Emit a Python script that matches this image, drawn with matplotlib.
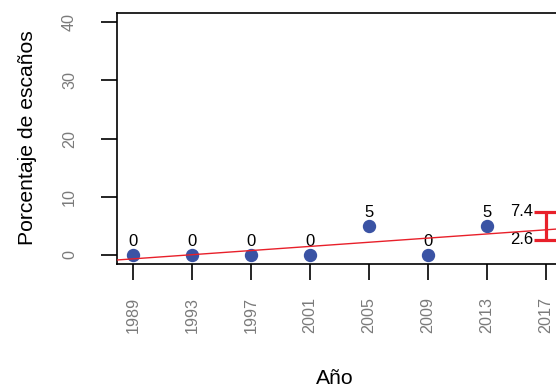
import numpy as np
import matplotlib
matplotlib.use("Agg")
import matplotlib.pyplot as plt

plt.rcParams['font.family'] = ['Liberation Sans', 'DejaVu Sans']

# seats share per election
years = [1989, 1993, 1997, 2001, 2005, 2009, 2013]
seats = [0, 0, 0, 0, 5, 0, 5]
# interval for the next election
pred_year = 2017
pred_low = 2.6
pred_high = 7.4
tick_years = [1989, 1993, 1997, 2001, 2005, 2009, 2013, 2017]
y_ticks = [0, 10, 20, 30, 40]

blue = '#3a53a4'
red = '#e8202a'
grey = '#7a7a7a'

fig = plt.figure(figsize=(5.56, 3.92), dpi=100)
ax = fig.add_axes([116.5 / 556, 1 - 264 / 392, 446 / 556, 251 / 392])

# R-style limits (4% padding)
xr = tick_years[-1] - tick_years[0]
ax.set_xlim(tick_years[0] - 0.04 * xr, tick_years[-1] + 0.04 * xr)
ax.set_ylim(-0.04 * 40, 40 * 1.04)

ax.plot(years, seats, 'o', color=blue, ms=8.6, zorder=3)
for x, y in zip(years, seats):
    ax.annotate(str(y), (x, y), xytext=(0, 6.5), textcoords='offset points',
                ha='center', va='baseline', fontsize=12)

# linear trend
slope, icpt = np.polyfit(years, seats, 1)
ax.axline((years[0], icpt + slope * years[0]), slope=slope, color=red, lw=1, zorder=4)

# interval bar
mid = (pred_low + pred_high) / 2
ax.errorbar([pred_year], [mid], yerr=[[mid - pred_low], [pred_high - mid]],
            color=red, lw=2.3, capsize=8.6, capthick=2.3, fmt='none', zorder=4,
            clip_on=False)
for v in (pred_high, pred_low):
    ax.annotate(f'{v:.1f}', (pred_year, v), xytext=(-9.5, 0), textcoords='offset points',
                ha='right', va='center', fontsize=12)

ax.set_xticks(tick_years)
ax.set_xticklabels([str(t) for t in tick_years], rotation=90, color=grey, fontsize=11.6)
ax.set_yticks(y_ticks)
ax.set_yticklabels([str(t) for t in y_ticks], rotation=90, va='center', color=grey, fontsize=11.6)
ax.tick_params(axis='x', length=11.5, width=1.2, pad=12)
ax.tick_params(axis='y', length=11.5, width=1.2, pad=17)
for s in ax.spines.values():
    s.set_linewidth(1.2)

fig.text(28 / 556, 1 - 138 / 392, 'Porcentaje de escaños', rotation=90,
         ha='center', va='center', fontsize=15.2)
fig.text(335 / 556, 1 - 378 / 392, 'Año', ha='center', va='center', fontsize=15.2)

fig.savefig('out.png', dpi=100)
